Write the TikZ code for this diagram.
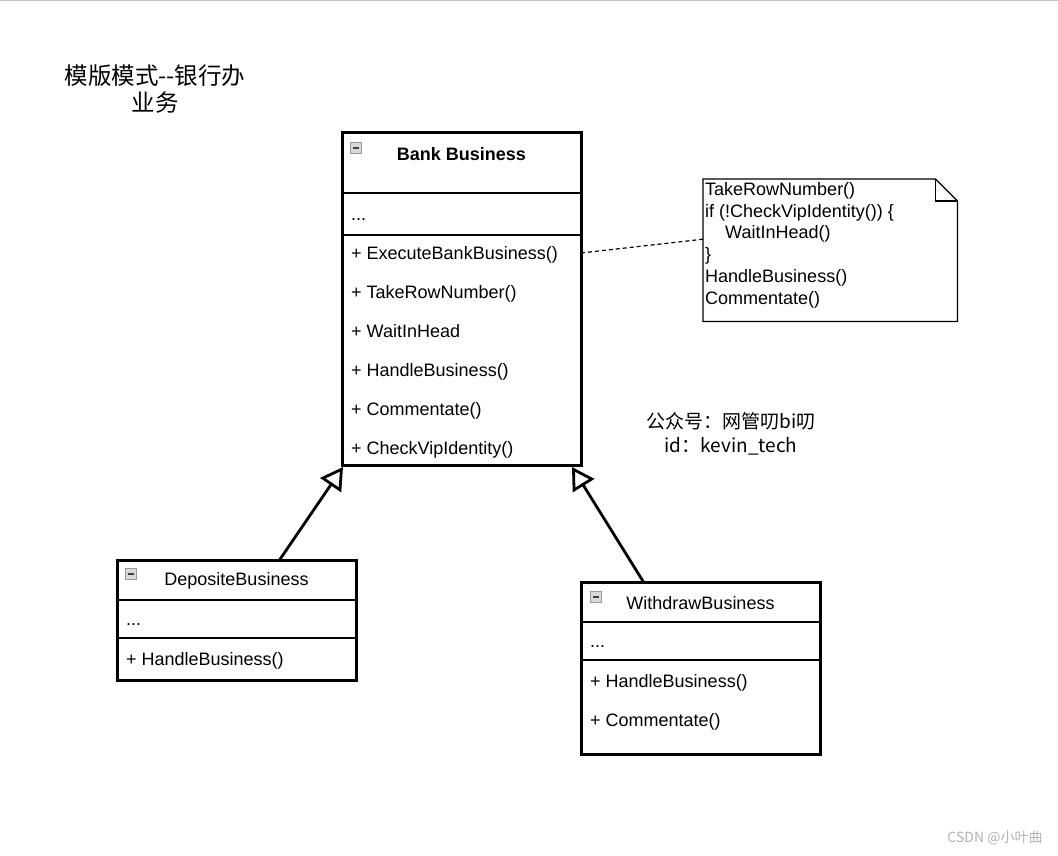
\documentclass[tikz,border=0pt]{standalone}
\usepackage{fontspec}
\setmainfont{Liberation Sans}
\newfontfamily\cjk{Noto Sans CJK SC}
\usetikzlibrary{arrows.meta,positioning}
\tikzset{
  box/.style={draw,line width=1.2pt,anchor=north west,inner sep=0pt,outer sep=0pt,minimum width=239pt},
  outline/.style={draw,line width=3pt},
  headline/.style={line width=2.2pt},
  member/.style={anchor=west,inner sep=0pt,text height=12.9pt,text depth=0pt,font=\fontsize{18}{21}\selectfont},
  icon/.style={draw=gray!80,fill=gray!30,minimum size=11pt,inner sep=0pt,line width=0.8pt,
    path picture={\draw[line width=1.6pt,black!75] ([xshift=2.5pt]path picture bounding box.west) -- ([xshift=-2.5pt]path picture bounding box.east);}},
  inherit/.style={line width=2.8pt,-{Triangle[open,length=22pt,width=25pt,fill=white]}},
  notelink/.style={line width=1.2pt,dash pattern=on 4pt off 3pt},
}
\begin{document}
\begin{tikzpicture}[x=1pt,y=-1pt]
\useasboundingbox (0,0) rectangle (1058,856);
\draw[gray!45,line width=1.5pt] (0,0.75) -- (1058,0.75);

\node[align=center,font=\cjk\fontsize{23.5}{27}\selectfont] (title) at (155,89) {模版模式--银行办\\业务};

% Bank Business
\node[box,minimum height=60pt] (bankhead) at (342,133) {};
\node[box,minimum height=42pt] (bankattr) at (bankhead.south west) {};
\node[box,minimum height=230pt] (bankops) at (bankattr.south west) {};
\draw[outline] (bankhead.north west) rectangle (bankops.south east);
\draw[headline] (bankhead.south west) -- (bankhead.south east);
\node[icon] (bankicon) at (356,148) {};
\node[font=\bfseries\fontsize{18}{21}\selectfont] (bankname) at ([yshift=9pt]bankhead.center) {Bank Business};
\node[member] (bankfield) at ([xshift=9pt]bankattr.west) {...};
\foreach \op [count=\i] in {ExecuteBankBusiness(),TakeRowNumber(),WaitInHead,HandleBusiness(),Commentate(),CheckVipIdentity()}
  \node[member] (bankop\i) at (351,{253+39*(\i-1)}) {+ \op};

% note
\node[minimum width=254pt,minimum height=142pt,anchor=north west,inner sep=0pt] (note) at (703,179) {};
\draw[line width=1.2pt] (note.north west) -- ([xshift=-22pt]note.north east) -- ([yshift=-22pt]note.north east) -- (note.south east) -- (note.south west) -- cycle;
\draw[line width=1.2pt] ([xshift=-22pt]note.north east) |- ([yshift=-22pt]note.north east);
\node[anchor=north west,align=left,inner sep=0pt,font=\fontsize{18}{21.8}\selectfont] (notetext) at ([xshift=2pt,yshift=-3pt]note.north west) {TakeRowNumber()\\if (!CheckVipIdentity()) \{\\\hspace*{20pt}WaitInHead()\\\}\\HandleBusiness()\\Commentate()};
\draw[notelink] (bankops.east |- bankop1) -- ([yshift=11pt]note.west);

\node[align=center,font=\cjk\fontsize{19}{24}\selectfont] (account) at (731,434) {公众号：网管叨bi叨\\id：kevin\_tech};

% DepositeBusiness
\node[box,minimum height=40pt] (dephead) at (117,560) {};
\node[box,minimum height=38pt] (depattr) at (dephead.south west) {};
\node[box,minimum height=42pt] (depops) at (depattr.south west) {};
\draw[outline] (dephead.north west) rectangle (depops.south east);
\draw[headline] (dephead.south west) -- (dephead.south east);
\node[icon] (depicon) at (131,574) {};
\node[font=\fontsize{18}{21}\selectfont] (depname) at ([yshift=-1pt]dephead.center) {DepositeBusiness};
\node[member] (depfield) at ([xshift=9pt]depattr.west) {...};
\node[member] (depop1) at ([xshift=9pt]depops.west) {+ HandleBusiness()};

% WithdrawBusiness
\node[box,minimum height=40pt] (withhead) at (581,582) {};
\node[box,minimum height=38pt] (withattr) at (withhead.south west) {};
\node[box,minimum height=94pt] (withops) at (withattr.south west) {};
\draw[outline] (withhead.north west) rectangle (withops.south east);
\draw[headline] (withhead.south west) -- (withhead.south east);
\node[icon] (withicon) at (596,597) {};
\node[font=\fontsize{18}{21}\selectfont] (withname) at ([yshift=-1pt]withhead.center) {WithdrawBusiness};
\node[member] (withfield) at ([xshift=9pt]withattr.west) {...};
\node[member] (withop1) at (590,681) {+ HandleBusiness()};
\node[member] (withop2) at (590,720) {+ Commentate()};

\draw[inherit] ([xshift=43pt]dephead.north) -- ([xshift=1pt,yshift=-2pt]bankops.south west);
\draw[inherit] ([xshift=-57pt]withhead.north) -- ([xshift=-9pt,yshift=-2pt]bankops.south east);

\node[text=gray!60,font=\cjk\fontsize{14}{16}\selectfont] (mark) at (995,838) {CSDN @小叶曲};
\end{tikzpicture}
\end{document}
